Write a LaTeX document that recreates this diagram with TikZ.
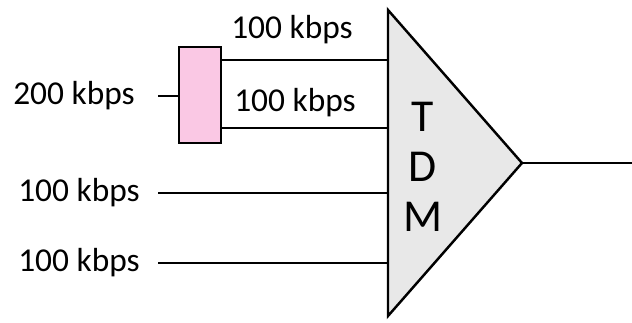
\documentclass[tikz,border=0pt]{standalone}
\usepackage{fontspec}
\setmainfont{Carlito}
\usetikzlibrary{positioning}
\definecolor{splitpink}{RGB}{250,200,228}
\begin{document}
\begin{tikzpicture}[x=0.02cm, y=-0.02cm, every node/.style={font=\fontsize{19}{22}\selectfont},
    wire/.style={line width=1.2pt}]
    \useasboundingbox (0,0) rectangle (632,322);
    % Mux (triangle)
    \coordinate (top) at (388,10);
    \coordinate (bot) at (388,316);
    \coordinate (apex) at (522,163);
    \filldraw[fill=gray!18, line width=1.4pt] (top) -- (apex) -- (bot) -- cycle;
    \node[font=\fontsize{26}{28.45}\selectfont, align=center, inner sep=0pt] (tdm) at (423,167) {T\\D\\M};
    % Inputs on the mux edge
    \foreach \i/\y in {1/60, 2/128, 3/193, 4/263}
        \coordinate (in\i) at (388,\y);
    % Splitter
    \node[draw, fill=splitpink, line width=1.2pt, minimum width=0.84cm, minimum height=1.92cm, inner sep=0pt] (split) at (200,95) {};
    \node (l0) at (74,96) {200 kbps};
    \coordinate (s0) at (158,96);
    \draw[wire] (s0) -- (s0 -| split.west);
    \draw[wire] (split.east |- in1) -- (in1);
    \draw[wire] (split.east |- in2) -- (in2);
    \node (l1) at (292,30) {100 kbps};
    \node (l2) at (295,103) {100 kbps};
    % Direct inputs
    \foreach \i/\y in {3/193, 4/263}{
        \node (l\i) at (79,\y) {100 kbps};
        \coordinate (s\i) at (158,\y);
        \draw[wire] (s\i) -- (in\i);
    }
    % Output
    \coordinate (out) at (632,163);
    \draw[wire] (apex) -- (out);
\end{tikzpicture}
\end{document}
